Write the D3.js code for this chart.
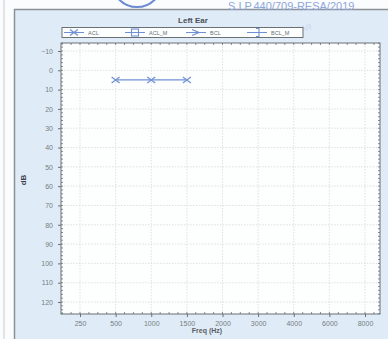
<!DOCTYPE html>
<html>
<head>
<meta charset="utf-8">
<script src="https://cdn.jsdelivr.net/npm/d3@7"></script>
<style>
  html, body { margin: 0; padding: 0; background: #fff; }
  svg { display: block; font-family: 'Liberation Sans', Arial, sans-serif; }
</style>
</head>
<body>
<div id="chart"></div>
<script>
// chart data
const freqs = ['250', '500', '1000', '1500', '2000', '3000', '4000', '6000', '8000']
const yTicks = [-10, 0, 10, 20, 30, 40, 50, 60, 70, 80, 90, 100, 110, 120]
const aclFreqs = ['500', '1000', '1500']
const aclValues = [5, 5, 5]
const legendLabels = ['ACL', 'ACL_M', 'BCL', 'BCL_M']

const width = 388
const height = 339
const frame = { left: 61, right: 380, top: 43, bottom: 314 }
const blue = '#6f8fd6'

const svg = d3.select('#chart').append('svg')
  .attr('width', width)
  .attr('height', height)

// scanned page background
svg.append('rect').attr('width', width).attr('height', height).attr('fill', '#fbfcfd')
svg.append('line').attr('x1', 4).attr('x2', 4).attr('y1', 0).attr('y2', height)
  .attr('stroke', '#c8ccd0').attr('stroke-width', 1)
svg.append('rect')
  .attr('x', 14.5).attr('y', 9.5)
  .attr('width', width).attr('height', height)
  .attr('fill', '#dfecf7')
  .attr('stroke', '#8a9097').attr('stroke-width', 1.5)

// stamp remains at the top
svg.append('circle')
  .attr('cx', 137).attr('cy', -18).attr('r', 25)
  .attr('fill', 'none').attr('stroke', '#6c8bd0').attr('stroke-width', 2)
svg.append('text')
  .attr('x', 228).attr('y', 10)
  .style('font-size', '11px')
  .style('fill', '#8ea6dc')
  .text('S.I.P.440/709-RESA/2019')
svg.append('text')
  .attr('x', 290).attr('y', 34)
  .attr('transform', 'rotate(-12,290,34)')
  .style('font-size', '8px')
  .style('fill', '#c9d6ee')
  .text('CHAR')

// scales
const x = d3.scalePoint().domain(freqs).range([80, 365])
const y = d3.scaleLinear().domain([-10, 120]).range([51, 302])

// plot area
svg.append('rect')
  .attr('x', frame.left).attr('y', frame.top)
  .attr('width', frame.right - frame.left).attr('height', frame.bottom - frame.top)
  .attr('fill', '#fdfefe')

// grid
const grid = svg.append('g').attr('stroke', '#d6d9dc').attr('stroke-width', 0.8).attr('stroke-dasharray', '1.5,1.5')
grid.selectAll('.vgrid').data(freqs).enter().append('line')
  .attr('x1', d => x(d)).attr('x2', d => x(d))
  .attr('y1', frame.top).attr('y2', frame.bottom)
grid.selectAll('.hgrid').data(yTicks).enter().append('line')
  .attr('x1', frame.left).attr('x2', frame.right)
  .attr('y1', d => y(d)).attr('y2', d => y(d))

// minor ticks along the frame
const ticks = svg.append('g').attr('stroke', '#6b7075').attr('stroke-width', 0.8)
const yMinor = d3.range(-14, 127, 2)
ticks.selectAll('.ly').data(yMinor).enter().append('line')
  .attr('x1', frame.left).attr('x2', frame.left + 2)
  .attr('y1', d => y(d)).attr('y2', d => y(d))
ticks.selectAll('.ry').data(yMinor).enter().append('line')
  .attr('x1', frame.right).attr('x2', frame.right - 2)
  .attr('y1', d => y(d)).attr('y2', d => y(d))
const step = x.step()
const xMinor = d3.range(-0.5, 8.5, 0.25).map(i => x(freqs[0]) + i * step)
ticks.selectAll('.bx').data(xMinor).enter().append('line')
  .attr('x1', d => d).attr('x2', d => d)
  .attr('y1', frame.bottom).attr('y2', frame.bottom - 2)
ticks.selectAll('.tx').data(xMinor).enter().append('line')
  .attr('x1', d => d).attr('x2', d => d)
  .attr('y1', frame.top).attr('y2', frame.top + 2)

// axes
svg.append('g')
  .attr('transform', `translate(${frame.left},0)`)
  .call(d3.axisLeft(y).tickValues(yTicks).tickSize(3).tickPadding(5))
  .call(g => g.select('.domain').remove())
  .call(g => g.selectAll('line').attr('stroke', '#6b7075'))
  .call(g => g.selectAll('text').style('font-size', '7px').style('fill', '#777c82'))

svg.append('g')
  .attr('transform', `translate(0,${frame.bottom})`)
  .call(d3.axisBottom(x).tickSize(3).tickPadding(4))
  .call(g => g.select('.domain').remove())
  .call(g => g.selectAll('line').attr('stroke', '#6b7075'))
  .call(g => g.selectAll('text').style('font-size', '7px').style('fill', '#777c82'))

// frame border
svg.append('rect')
  .attr('x', frame.left).attr('y', frame.top)
  .attr('width', frame.right - frame.left).attr('height', frame.bottom - frame.top)
  .attr('fill', 'none').attr('stroke', '#6b7075').attr('stroke-width', 1)

// titles
svg.append('text')
  .attr('x', 193).attr('y', 23)
  .attr('text-anchor', 'middle')
  .style('font-size', '8px').style('font-weight', 'bold').style('fill', '#4a4f55')
  .text('Left Ear')

svg.append('text')
  .attr('transform', 'translate(26,180) rotate(-90)')
  .attr('text-anchor', 'middle')
  .style('font-size', '8px').style('font-weight', 'bold').style('fill', '#3c4046')
  .text('dB')

svg.append('text')
  .attr('x', 207).attr('y', 333)
  .attr('text-anchor', 'middle')
  .style('font-size', '7px').style('font-weight', 'bold').style('fill', '#5a5f65')
  .text('Freq (Hz)')

// legend
const legend = svg.append('g')
legend.append('rect')
  .attr('x', 62).attr('y', 27.5).attr('width', 241).attr('height', 10)
  .attr('fill', '#fdfefe').attr('stroke', '#6b7075').attr('stroke-width', 1)

const legendX = d3.scalePoint().domain(legendLabels).range([64, 247])
const item = legend.selectAll('.item').data(legendLabels).enter().append('g')
  .attr('transform', d => `translate(${legendX(d)},32.5)`)
item.append('line')
  .attr('x1', 0).attr('x2', 20)
  .attr('stroke', blue).attr('stroke-width', 1)
item.append('text')
  .attr('x', 24).attr('y', 2)
  .style('font-size', '5.5px').style('fill', '#6a6f75')
  .text(d => d)

function drawMarker(g, type) {
  if (type === 'ACL') {
    g.append('path').attr('d', 'M-4,-3L4,3M-4,3L4,-3')
      .attr('stroke', blue).attr('stroke-width', 1.2).attr('fill', 'none')
  } else if (type === 'ACL_M') {
    g.append('rect').attr('x', -3.5).attr('y', -3.5).attr('width', 7).attr('height', 7)
      .attr('stroke', blue).attr('stroke-width', 1.1).attr('fill', 'none')
  } else if (type === 'BCL') {
    g.append('path').attr('d', 'M-4,-3L3,0L-4,3')
      .attr('stroke', blue).attr('stroke-width', 1.2).attr('fill', 'none')
  } else {
    g.append('path').attr('d', 'M-1,-4L2,-4L2,4L-1,4')
      .attr('stroke', blue).attr('stroke-width', 1.1).attr('fill', 'none')
  }
}
item.each(function(d) {
  drawMarker(d3.select(this).append('g').attr('transform', 'translate(10,0)'), d)
})

// ACL series
const acl = aclFreqs.map((f, i) => ({ f, v: aclValues[i] }))
svg.append('path')
  .datum(acl)
  .attr('d', d3.line().x(d => x(d.f)).y(d => y(d.v)))
  .attr('fill', 'none').attr('stroke', blue).attr('stroke-width', 1.2)
svg.selectAll('.acl').data(acl).enter().append('g')
  .attr('transform', d => `translate(${x(d.f)},${y(d.v)})`)
  .each(function() { drawMarker(d3.select(this), 'ACL') })
</script>
</body>
</html>
